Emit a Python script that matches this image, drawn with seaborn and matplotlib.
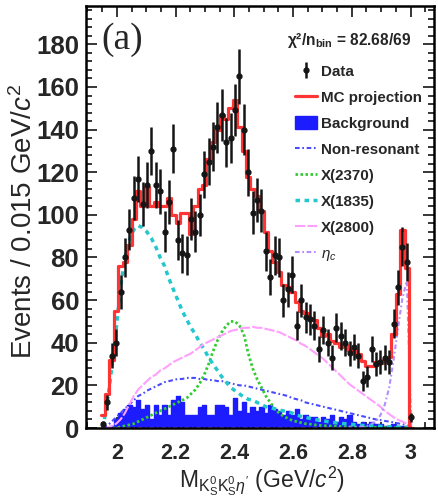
import numpy as np
import pandas as pd
import matplotlib
matplotlib.use("Agg")
import matplotlib.pyplot as plt
from matplotlib.lines import Line2D
from matplotlib.patches import Patch
from matplotlib.ticker import MultipleLocator
from matplotlib import font_manager
import seaborn as sns

# Binning: 0.015 GeV/c^2 bins
bin_lo = 1.945
bin_width = 0.015
n_bins = 71

# Observed events per bin
data_counts = [2, 12, 34, 40, 64, 80, 93, 108, 117, 105,
               114, 130, 114, 111, 92, 106, 131, 88, 82, 81,
               98, 92, 100, 119, 125, 132, 141, 147, 134, 136,
               149, 165, 140, 120, 101, 107, 102, 83, 71, 81,
               80, 60, 65, 72, 48, 60, 52, 51, 48, 37,
               46, 40, 33, 47, 43, 40, 35, 38, 34, 22,
               24, 37, 30, 31, 33, 31, 49, 66, 85, 78,
               5]

# Total MC projection
mc_total = [6, 16, 32, 55, 76, 78, 86, 98, 111, 104,
            113, 104, 106, 104, 104, 108, 100, 96, 101, 101,
            91, 104, 112, 114, 126, 134, 140, 147, 145, 150,
            154, 141, 130, 118, 112, 109, 102, 92, 83, 78,
            73, 67, 66, 64, 59, 55, 54, 51.5, 50.5, 47,
            43, 44, 41, 40, 38, 39, 36.6, 37, 34.5, 31.5,
            29, 29, 31, 30.5, 32, 33.4, 44, 63, 93, 75,
            0]

# Background
background = [0, 0, 1, 4, 7, 9, 11, 10, 13, 9,
              11, 4, 11, 6, 11, 6, 13, 15, 12, 6,
              6, 6, 10, 11, 6, 6, 11, 11, 10, 6,
              14, 8, 12, 7, 10, 8, 10, 7, 11, 9,
              8, 6, 8, 6, 9, 4, 6, 5, 5, 3,
              5, 4, 6, 3, 5, 4, 6, 3, 2, 3,
              2, 3, 2, 2, 1, 1, 2, 1, 1, 1,
              0]

# Signal / non-resonant components
non_resonant = [0, 1, 3, 5, 7, 9, 11, 13, 15, 16,
                17.5, 18.5, 19.5, 20.5, 21.5, 22, 22.5, 23, 23, 23.5,
                23.5, 23.5, 23, 23, 22.5, 22.5, 22, 22, 21.5, 21,
                20.5, 20, 20, 19.5, 19, 18.5, 18, 17.5, 17, 16.5,
                16, 15.5, 15, 14, 13.5, 13, 12, 11.5, 11, 10.5,
                10, 9.5, 9, 8.5, 8, 7.5, 7, 6.5, 6, 5.5,
                5, 4.5, 4, 3.7, 3.3, 3, 2.6, 2.2, 1.8, 1.3,
                0]

x2370 = [0, 0, 0, 0, 0.5, 1, 1.5, 2, 3, 4,
         5, 6, 7, 8, 9, 10, 11, 12, 13, 14,
         16, 18, 21, 25, 30, 36, 41, 45, 48, 50,
         50, 48, 44, 35, 28, 23, 19, 15, 12, 9,
         7, 5.5, 4.5, 3.5, 3, 2.5, 2, 1.8, 1.5, 1.3,
         1.1, 1, 0.9, 0.8, 0.7, 0.6, 0.5, 0.5, 0.4, 0.4,
         0.3, 0.3, 0.3, 0.2, 0.2, 0.2, 0.1, 0.1, 0.1, 0.1,
         0]

x1835 = [0, 12, 28, 46, 66, 80, 88, 93, 95, 94,
         92, 89, 85, 80, 76, 70, 65, 60, 55, 51,
         47, 44, 40, 37, 33, 30, 27, 24, 21.5, 19,
         17.5, 16, 14.5, 13.5, 13, 12, 11, 10, 9.5, 9,
         8.5, 8, 7.5, 7, 6, 5.5, 5, 4.5, 4, 3.7,
         3.4, 3, 2.7, 2.4, 2.2, 2, 1.8, 1.6, 1.4, 1.2,
         1.1, 1, 0.9, 0.8, 0.7, 0.6, 0.5, 0.4, 0.3, 0.2,
         0]

x2800 = [0, 0, 1, 2, 4, 7, 11, 15, 18, 20,
         22, 24, 25, 27, 28, 29.5, 31, 32, 33, 34,
         35, 36.5, 38, 39.5, 40.5, 41.5, 42.5, 43.5, 44.5, 45.5,
         46, 46.5, 47, 47, 47.5, 47, 47, 46.5, 46, 45.5,
         45, 44, 43, 42, 41, 39.5, 38.5, 37, 35.5, 34,
         32.5, 30.5, 28.5, 26.5, 24.5, 22.5, 20.5, 19, 17.5, 16,
         14.5, 13, 11.5, 10, 8, 6.5, 5, 3.8, 3, 2,
         0]

eta_c = [0, 0, 0, 0, 0, 0, 0, 0, 0, 0,
         0, 0, 0, 0, 0, 0, 0, 0, 0, 0,
         0, 0, 0, 0, 0, 0, 0, 0, 0, 0,
         0, 0, 0, 0, 0, 0, 0, 0, 0, 0,
         0, 0, 0, 0, 0, 0, 0, 0, 0, 0,
         0, 0, 0, 0, 0, 0, 0.2, 0.3, 0.4, 0.6,
         1, 2, 3, 6, 11, 19, 32, 47, 61, 69,
         0]

edges = bin_lo + bin_width * np.arange(n_bins + 1)
centers = 0.5 * (edges[:-1] + edges[1:])
edge_list = edges.tolist()

hist = pd.DataFrame({
    "mass": centers,
    "data": np.asarray(data_counts, dtype=float),
    "mc": np.asarray(mc_total, dtype=float),
    "bkg": np.asarray(background, dtype=float),
    "nr": np.asarray(non_resonant, dtype=float),
    "x2370": np.asarray(x2370, dtype=float),
    "x1835": np.asarray(x1835, dtype=float),
    "x2800": np.asarray(x2800, dtype=float),
    "etac": np.asarray(eta_c, dtype=float),
})

sns.set_theme(style="ticks")
plt.rcParams["font.family"] = ["Liberation Sans", "DejaVu Sans"]
plt.rcParams["mathtext.fontset"] = "custom"
plt.rcParams["mathtext.rm"] = "Liberation Sans"
plt.rcParams["mathtext.it"] = "Liberation Sans:italic"
plt.rcParams["mathtext.bf"] = "Liberation Sans:bold"

# narrow face for the legend and fit-quality note, if present
_names = {f.name for f in font_manager.fontManager.ttflist}
NARROW = "Liberation Sans Narrow" if "Liberation Sans Narrow" in _names else "Liberation Sans"
narrow_scale = 1.0 if NARROW == "Liberation Sans Narrow" else 0.86

C_MC = "#ff3535"
C_BKG = "#1c1cff"
C_NR = "#4a4aff"
C_2370 = "#33cc33"
C_1835 = "#22c8cc"
C_2800 = "#ffa0ff"
C_ETAC = "#b48cff"

LS_NR = (0, (2.2, 1.3, 0.8, 1.3))
LS_2370 = (0, (0.9, 0.9))
LS_1835 = (0, (1.3, 1.3))
LS_2800 = (0, (5, 1))
LS_ETAC = (0, (2.2, 1.3, 0.8, 1.3))

fig = plt.figure(figsize=(4.39, 5.04), dpi=100)
ax = fig.add_axes([86 / 439, 1 - 428 / 504, (434 - 86) / 439, (428 - 6) / 504])

# background as a filled histogram
sns.histplot(data=hist, x="mass", weights="bkg", bins=edge_list, element="step",
             fill=True, color=C_BKG, alpha=1.0, linewidth=1.0, ax=ax)

# fit components
sns.lineplot(data=hist, x="mass", y="nr", ax=ax, color=C_NR, lw=1.5, linestyle=LS_NR)
sns.lineplot(data=hist, x="mass", y="x2370", ax=ax, color=C_2370, lw=2.0, linestyle=LS_2370)
sns.lineplot(data=hist, x="mass", y="x1835", ax=ax, color=C_1835, lw=2.5, linestyle=LS_1835)
sns.lineplot(data=hist, x="mass", y="x2800", ax=ax, color=C_2800, lw=1.5, linestyle=LS_2800)
sns.lineplot(data=hist, x="mass", y="etac", ax=ax, color=C_ETAC, lw=1.5, linestyle=LS_ETAC)

# total fit projection
sns.histplot(data=hist, x="mass", weights="mc", bins=edge_list, element="step",
             fill=False, color=C_MC, linewidth=2.3, ax=ax)

# data with Poisson errors
eb = ax.errorbar(hist["mass"], hist["data"], yerr=np.sqrt(hist["data"]), fmt="o",
                 color="#151515", ms=3.5, elinewidth=1.8, capsize=0, zorder=5)

ax.set_xlim(1.895, 3.08)
ax.set_ylim(0, 198)
ax.set_xlabel("")
ax.set_ylabel("")

ax.xaxis.set_minor_locator(MultipleLocator(0.05))
ax.yaxis.set_major_locator(MultipleLocator(20))
ax.yaxis.set_minor_locator(MultipleLocator(4))
ax.tick_params(which="both", direction="in", top=True, right=True, width=1.3)
ax.tick_params(which="major", length=8)
ax.tick_params(which="minor", length=4)
ax.tick_params(axis="x", labelsize=15.5, pad=11)
ax.tick_params(axis="y", labelsize=18.5, pad=5)
ax.set_xticks([2.0, 2.2, 2.4, 2.6, 2.8, 3.0])
ax.set_xticklabels(["2", "2.2", "2.4", "2.6", "2.8", "3"])
for lab in ax.get_xticklabels() + ax.get_yticklabels():
    lab.set_fontweight("bold")
for sp in ax.spines.values():
    sp.set_linewidth(1.8)
    sp.set_color("black")

fig.text(24 / 439, 1 - 221 / 504, r"Events / 0.015 GeV/$c^2$", rotation=90,
         ha="center", va="center", fontsize=20)
fig.text(262 / 439, 1 - 487 / 504,
         r"M$_{\mathrm{K^0_SK^0_S}\eta'}$ (GeV/$c^2$)",
         ha="center", va="baseline", fontsize=16.5)

ax.text(0.043, 0.92, "(a)", transform=ax.transAxes, ha="left", va="center",
        fontsize=27, family=["Liberation Serif", "DejaVu Serif"])
ax.text(0.578, 0.918, r"χ²/n$_{\mathbf{bin}}$ = 82.68/69", transform=ax.transAxes,
        ha="left", va="center", fontsize=13 * narrow_scale, fontweight="bold",
        family=[NARROW, "DejaVu Sans"])

handles = [
    eb,
    Line2D([], [], color=C_MC, lw=2.3),
    Patch(facecolor=C_BKG, edgecolor=C_BKG),
    Line2D([], [], color=C_NR, lw=1.5, linestyle=LS_NR),
    Line2D([], [], color=C_2370, lw=2.0, linestyle=LS_2370),
    Line2D([], [], color=C_1835, lw=2.5, linestyle=LS_1835),
    Line2D([], [], color=C_2800, lw=1.5, linestyle=LS_2800),
    Line2D([], [], color=C_ETAC, lw=1.5, linestyle=LS_ETAC),
]
labels = ["Data", "MC projection", "Background", "Non-resonant",
          "X(2370)", "X(1835)", "X(2800)", r"$\eta_c$"]
ax.legend(handles, labels, loc="upper left", bbox_to_anchor=(0.60, 0.862),
          frameon=False, borderpad=0, borderaxespad=0, handlelength=1.45,
          handletextpad=0.3, labelspacing=0.76, handleheight=0.9,
          prop={"weight": "bold", "size": 12.7 * narrow_scale, "family": NARROW})

fig.savefig("out.png", dpi=100, facecolor="white")
